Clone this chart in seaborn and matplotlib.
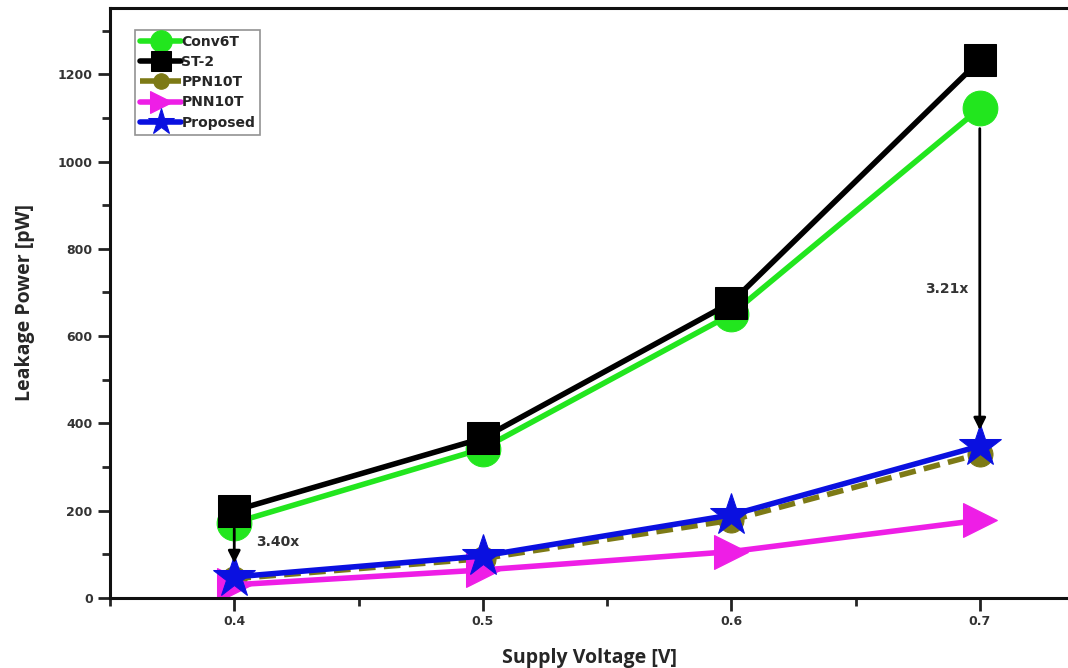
import matplotlib
matplotlib.use("Agg")
import matplotlib.pyplot as plt
from matplotlib.ticker import MultipleLocator
import seaborn as sns
import pandas as pd

voltage = [0.4, 0.5, 0.6, 0.7]
conv6t = [172, 342, 650, 1122]
st2 = [200, 366, 677, 1232]
ppn10t = [44, 90, 178, 330]
pnn10t = [30, 64, 106, 178]
proposed = [48, 96, 190, 348]
series_names = ["Conv6T", "ST-2", "PPN10T", "PNN10T", "Proposed"]
ann_texts = ["3.40x", "3.21x"]

sns.set_style("ticks")
plt.rcParams['font.family'] = ['DejaVu Sans']

fig = plt.figure(figsize=(10.68, 6.68), dpi=100)
ax = fig.add_axes([0.103, 0.105, 0.897, 0.883])

styles = {
    "Conv6T": dict(color="#22e61e", marker="o", ms=25, ls="-"),
    "ST-2": dict(color="#000000", marker="s", ms=23, ls="-"),
    "PPN10T": dict(color="#7d7a16", marker="o", ms=18, ls=(0, (3, 1.5))),
    "PNN10T": dict(color="#ee1ee6", marker=">", ms=25, ls="-"),
    "Proposed": dict(color="#0a10e0", marker="*", ms=32, ls="-"),
}
values = {"Conv6T": conv6t, "ST-2": st2, "PPN10T": ppn10t, "PNN10T": pnn10t, "Proposed": proposed}

for name in series_names:
    st = styles[name]
    df = pd.DataFrame({"V": voltage, "P": values[name]})
    sns.lineplot(data=df, x="V", y="P", ax=ax, color=st["color"], marker=st["marker"],
                 markersize=st["ms"], linewidth=4, linestyle=st["ls"],
                 markeredgecolor=st["color"], label=name)

ax.set_xlim(0.35, 0.7355)
ax.set_ylim(0, 1352)
ax.xaxis.set_minor_locator(MultipleLocator(0.05))
ax.yaxis.set_major_locator(MultipleLocator(200))
ax.yaxis.set_minor_locator(MultipleLocator(100))
ax.set_xticks(voltage)
ax.set_xticklabels([f"{v:.1f}" for v in voltage])
ax.tick_params(axis="both", which="major", length=9, width=2, labelsize=9, colors="#222222")
ax.tick_params(axis="both", which="minor", length=6, width=2)
for lab in ax.get_xticklabels() + ax.get_yticklabels():
    lab.set_fontweight("bold")
    lab.set_color("#333333")
for side in ["left", "bottom", "top"]:
    ax.spines[side].set_linewidth(2.2)
    ax.spines[side].set_color("#111111")
ax.spines["right"].set_visible(False)

ax.set_xlabel("Supply Voltage [V]", fontsize=14, fontweight="bold", family="Open Sans", labelpad=14)
ax.set_ylabel("Leakage Power [pW]", fontsize=14, fontweight="bold", family="Open Sans", labelpad=16)

# annotations
ax.annotate("", xy=(0.4, proposed[0] + 25), xytext=(0.4, st2[0] - 35),
            arrowprops=dict(arrowstyle="-|>", color="black", lw=2, mutation_scale=18))
ax.text(0.409, 128, ann_texts[0], fontsize=10, fontweight="bold", color="#333333", va="center")
ax.annotate("", xy=(0.7, proposed[3] + 30), xytext=(0.7, conv6t[3] - 40),
            arrowprops=dict(arrowstyle="-|>", color="black", lw=2, mutation_scale=18))
ax.text(0.6955, 708, ann_texts[1], fontsize=10, fontweight="bold", color="#333333", va="center", ha="right")

leg = ax.legend(loc="upper left", bbox_to_anchor=(0.026, 0.963), frameon=True, fancybox=False,
                handlelength=3.0, handletextpad=0.0, borderpad=0.35, labelspacing=0.45,
                prop=dict(weight="bold", size=10), markerscale=0.62, borderaxespad=0)
leg.get_frame().set_edgecolor("#777777")
leg.get_frame().set_linewidth(1.2)

fig.savefig("out.png", dpi=100)
